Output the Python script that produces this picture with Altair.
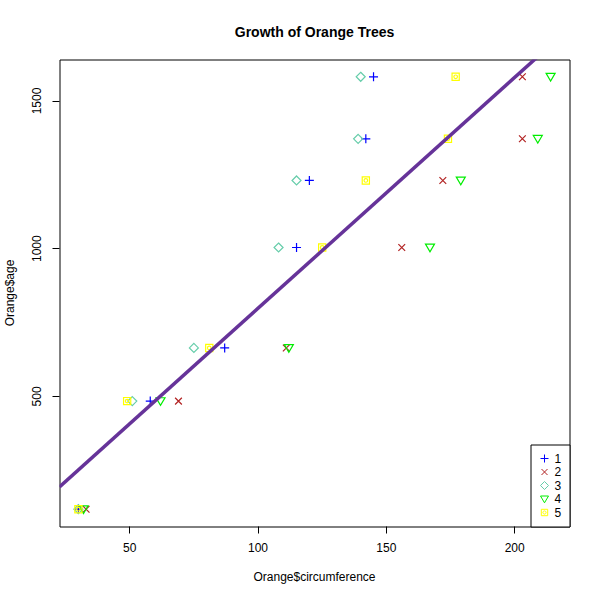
import altair as alt
import pandas as pd

trees = ["1", "2", "3", "4", "5"]
ages = [118, 484, 664, 1004, 1231, 1372, 1582]
circ_tree1 = [30, 58, 87, 115, 120, 142, 145]
circ_tree2 = [33, 69, 111, 156, 172, 203, 203]
circ_tree3 = [30, 51, 75, 108, 115, 139, 140]
circ_tree4 = [32, 62, 112, 167, 179, 209, 214]
circ_tree5 = [30, 49, 81, 125, 142, 174, 177]

tree_colors = ["#0000FF", "#B22222", "#66CDAA", "#00EE00", "#FFFF00"]
tree_shapes = [
    "M-1,0H1M0,-1V1",
    "M-0.75,-0.75L0.75,0.75M-0.75,0.75L0.75,-0.75",
    "M0,-1L1,0L0,1L-1,0Z",
    "M-1,-0.75L1,-0.75L0,0.95Z",
    "M-0.8,-0.8H0.8V0.8H-0.8Z M-0.4,0A0.4,0.4 0 1,0 0.4,0A0.4,0.4 0 1,0 -0.4,0",
]

rows = []
for t, circ in zip(trees, [circ_tree1, circ_tree2, circ_tree3, circ_tree4, circ_tree5]):
    for a, c in zip(ages, circ):
        rows.append({"Tree": t, "circumference": c, "age": a})
df = pd.DataFrame(rows)

FONT = "Liberation Sans"
x_dom = [22.64, 221.36]
y_dom = [59.44, 1640.56]

x_enc = alt.X("circumference:Q", title="Orange$circumference",
              scale=alt.Scale(domain=x_dom, nice=False, zero=False),
              axis=alt.Axis(values=[50, 100, 150, 200], grid=False, domain=False,
                            tickSize=7, tickColor="black", labelFontSize=12,
                            labelFont=FONT, labelColor="black", labelPadding=9,
                            format="d", translate=0,
                            titleFont=FONT, titleFontSize=12, titleFontWeight="normal",
                            titleColor="black", titlePadding=18))
y_enc = alt.Y("age:Q", title="Orange$age",
              scale=alt.Scale(domain=y_dom, nice=False, zero=False),
              axis=alt.Axis(values=[500, 1000, 1500], grid=False, domain=False,
                            tickSize=7, tickColor="black", labelFontSize=12,
                            labelFont=FONT, labelColor="black", labelAngle=-90,
                            labelAlign="center", labelBaseline="bottom", labelPadding=9,
                            format="d", translate=0,
                            titleFont=FONT, titleFontSize=12, titleFontWeight="normal",
                            titleColor="black", titlePadding=14))

legend = alt.Legend(title=None, orient="bottom-right", offset=0, padding=8,
                    strokeColor="black", fillColor="white", labelFontSize=12,
                    labelFont=FONT, labelColor="black", symbolSize=64,
                    symbolStrokeWidth=1, rowPadding=1.5, labelOffset=4, cornerRadius=0)

points = alt.Chart(df).mark_point(filled=False, strokeWidth=1.2, opacity=1).encode(
    x=x_enc,
    y=y_enc,
    color=alt.Color("Tree:N", scale=alt.Scale(domain=trees, range=tree_colors), legend=legend),
    shape=alt.Shape("Tree:N", scale=alt.Scale(domain=trees, range=tree_shapes), legend=legend),
    size=alt.value(81),
)

line = alt.Chart(df).transform_regression(
    "circumference", "age", extent=x_dom
).mark_line(color="#663399", strokeWidth=3.5, clip=True).encode(
    x=alt.X("circumference:Q", scale=alt.Scale(domain=x_dom, nice=False, zero=False)),
    y=alt.Y("age:Q", scale=alt.Scale(domain=y_dom, nice=False, zero=False)),
)

chart = alt.layer(points, line).properties(
    width=510, height=467,
    title=alt.TitleParams("Growth of Orange Trees", fontSize=14, fontWeight="bold",
                          font=FONT, anchor="middle", frame="group", offset=6,
                          baseline="bottom", color="black"),
    autosize=alt.AutoSizeParams(type="none"),
    padding={"left": 59.5, "top": 59.5, "right": 30.5, "bottom": 73.5},
    background="white",
).configure_view(stroke="black", strokeWidth=1)

chart.save("out.html", embed_options={"renderer": "svg", "actions": False})
